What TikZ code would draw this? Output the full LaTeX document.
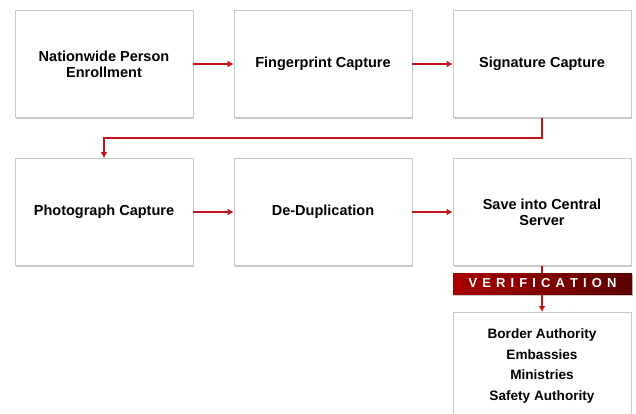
\documentclass[tikz,border=0pt]{standalone}
\usepackage{fontspec}
\setmainfont{Liberation Sans}
\usetikzlibrary{arrows.meta,shadows,positioning,calc}
\definecolor{arrred}{HTML}{C0161B}
\definecolor{boxline}{HTML}{C8C8C8}
\definecolor{barleft}{HTML}{A80000}
\definecolor{barmid}{HTML}{C40000}
\definecolor{bardark}{HTML}{5A0000}
\tikzset{
  procbox/.style={draw=boxline, line width=0.8pt, fill=white, minimum width=178pt, minimum height=107pt,
    inner sep=0pt, align=center, font=\bfseries\fontsize{14.5}{16}\selectfont,
    drop shadow={shadow xshift=1pt, shadow yshift=-1.5pt, opacity=0.35, fill=black!60}},
  flow/.style={draw=arrred, line width=1.4pt, -{Latex[length=6pt,width=7pt]}},
}
\newcommand{\vsp}{\hspace{5.1pt}}
\begin{document}
\begin{tikzpicture}[x=1pt,y=-1pt]
\useasboundingbox (0,0) rectangle (636,413);
\node[procbox] (b1) at (104,64) {Nationwide Person\\Enrollment};
\node[procbox] (b2) at (323,64) {Fingerprint Capture};
\node[procbox] (b3) at (542,64) {Signature Capture};
\node[procbox] (b4) at (104,212) {Photograph Capture};
\node[procbox] (b5) at (323,212) {De-Duplication};
\node[procbox] (b6) at (542,212) {Save into Central\\Server};
\node[procbox, anchor=north, minimum height=120pt] (b7) at (542,312) {};
\node[font=\bfseries\fontsize{13.6}{20.5}\selectfont, align=center] (b7t) at (542,366) {Border Authority\\Embassies\\Ministries\\Safety Authority};
\draw[flow] (b1.east) -- (b2.west);
\draw[flow] (b2.east) -- (b3.west);
\coordinate (c1) at (542,138);
\coordinate (c2) at (104,138);
\draw[flow] (b3.south) -- (c1) -- (c2) -- (b4.north);
\draw[flow] (b4.east) -- (b5.west);
\draw[flow] (b5.east) -- (b6.west);
\draw[flow] (b6.south) -- (b7.north);
\node[minimum width=179pt, minimum height=21pt, inner sep=0pt, left color=barleft, middle color=barmid, right color=bardark,
  drop shadow={shadow xshift=1pt, shadow yshift=-1.5pt, opacity=0.35, fill=black!60},
  text=white, font=\bfseries\fontsize{13}{14}\selectfont] (ver) at (542.5,283.5)
  {V\vsp E\vsp R\vsp I\vsp F\vsp I\vsp C\vsp A\vsp T\vsp I\vsp O\vsp N};
\end{tikzpicture}
\end{document}
